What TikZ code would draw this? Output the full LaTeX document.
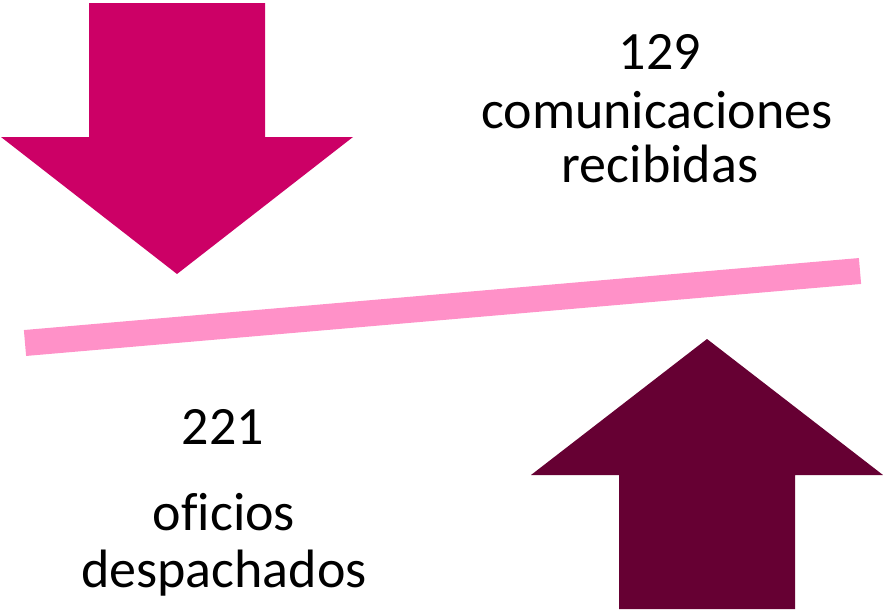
\documentclass[tikz,border=0pt]{standalone}
\usepackage{fontspec}
\setmainfont[Ligatures=CommonOff]{Carlito}
\usetikzlibrary{positioning}
\definecolor{magentaarrow}{HTML}{CC0066}
\definecolor{maroonarrow}{HTML}{660033}
\definecolor{pinkbar}{HTML}{FF91C8}

\begin{document}
\begin{tikzpicture}[x=1pt,y=-1pt]
\tikzstyle{label}=[inner sep=0pt, anchor=base, font=\fontsize{54}{57}\selectfont]
\tikzstyle{bar}=[line width=26pt, draw=pinkbar, line cap=butt]
\useasboundingbox (0,0) rectangle (883,613);
	% arrows
	\fill[magentaarrow] (89,3) -- (265,3) -- (265,137) -- (353,137) -- (177,274)
		-- (1,137) -- (89,137) -- cycle;
	\fill[maroonarrow] (619,609) -- (795,609) -- (795,475) -- (883,475) -- (707,339)
		-- (531,475) -- (619,475) -- cycle;

	\coordinate (b_l) at (25,343);
	\coordinate (b_r) at (860,271);
	\draw[bar] (b_l) -- (b_r);

	\node[label] (n_rec) at (660,69) {129};
	\node[label] (t_rec1) at (657,128) {comunicaciones};
	\node[label] (t_rec2) at (660,182) {recibidas};

	\node[label] (n_ofi) at (223,444) {221};
	\node[label] (t_ofi1) at (224,530) {oficios};
	\node[label] (t_ofi2) at (224,587) {despachados};
\end{tikzpicture}
\end{document}
